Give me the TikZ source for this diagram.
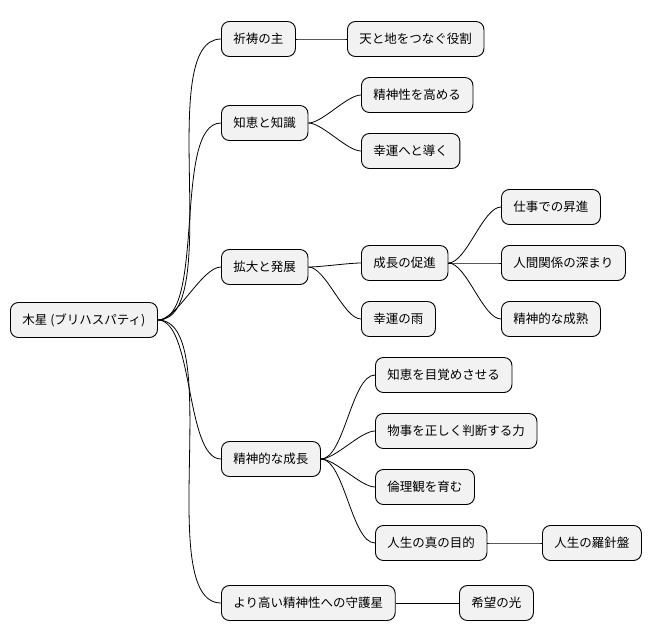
\documentclass[tikz,border=0pt]{standalone}
\usepackage{fontspec}
\setmainfont{Noto Sans CJK JP}
\begin{document}
\begin{tikzpicture}[x=1pt,y=-1pt,
 box/.style={draw=black,line width=0.9pt,fill=gray!10,rounded corners=8pt,anchor=west,
   inner xsep=12pt,minimum height=35pt,font=\fontsize{12.5}{14}\selectfont},
 link/.style={draw=black,line width=0.8pt}]
\useasboundingbox (0,0) rectangle (658,640);
\node[box] (r) at (10,320) {木星 (ブリハスパティ)};
\node[box] (a) at (221,39) {祈祷の主};
\node[box] (b) at (221,123) {知恵と知識};
\node[box] (c) at (221,267) {拡大と発展};
\node[box] (d) at (221,459) {精神的な成長};
\node[box] (e) at (221,603) {より高い精神性への守護星};
\node[box] (a1) at (347,39) {天と地をつなぐ役割};
\node[box] (b1) at (361,95) {精神性を高める};
\node[box] (b2) at (361,151) {幸運へと導く};
\node[box] (c1) at (361,263) {成長の促進};
\node[box] (c2) at (361,319) {幸運の雨};
\node[box] (c11) at (501,207) {仕事での昇進};
\node[box] (c12) at (501,263) {人間関係の深まり};
\node[box] (c13) at (501,319) {精神的な成熟};
\node[box] (d1) at (375,375) {知恵を目覚めさせる};
\node[box] (d2) at (375,431) {物事を正しく判断する力};
\node[box] (d3) at (375,487) {倫理観を育む};
\node[box] (d4) at (375,543) {人生の真の目的};
\node[box] (d41) at (542,543) {人生の羅針盤};
\node[box] (e1) at (459,603) {希望の光};
\foreach \p/\c in {r/a,r/b,r/c,r/d,r/e,a/a1,b/b1,b/b2,c/c1,c/c2,c1/c11,c1/c12,c1/c13,d/d1,d/d2,d/d3,d/d4,d4/d41,e/e1}
  \draw[link] (\p.east) to[out=0,in=180,looseness=0.6] (\c.west);
\end{tikzpicture}
\end{document}
